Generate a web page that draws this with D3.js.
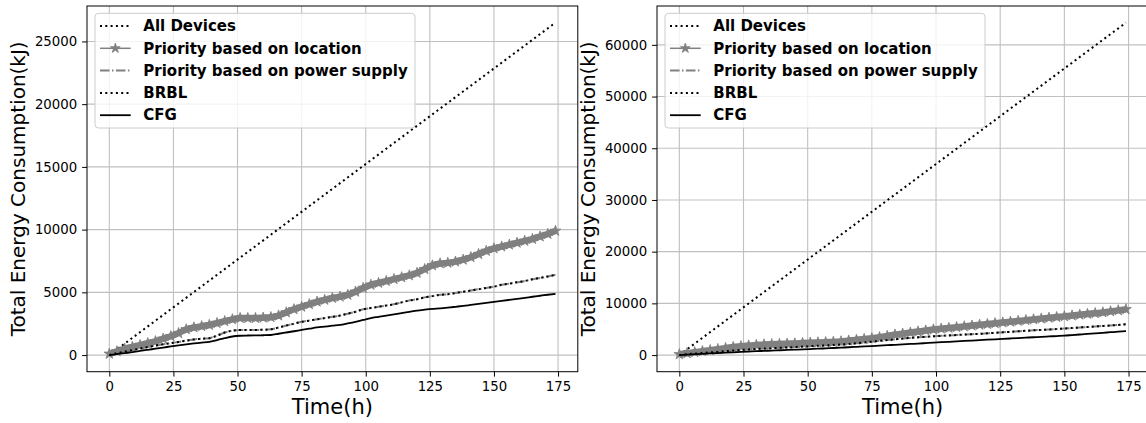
<!DOCTYPE html>
<html>
<head>
<meta charset="utf-8">
<script src="https://cdn.jsdelivr.net/npm/d3@7"></script>
<style>
  body { margin: 0; background: #fff; }
  svg { display: block; font-family: "DejaVu Sans", sans-serif; }
</style>
</head>
<body>
<div id="chart"></div>
<script>
const hours = [0,3,6,9,12,15,18,21,24,27,30,33,36,39,42,45,48,51,54,57,60,63,66,69,72,75,78,81,84,87,90,93,96,99,102,105,108,111,114,117,120,123,126,129,132,135,138,141,144,147,150,153,156,159,162,165,168,171,174];

const deviceHours = [0, 174];
const leftAllDevices = [0, 26500];
const rightAllDevices = [0, 64300];

const leftLocation = [100,300,500,650,800,950,1100,1300,1500,1750,2050,2200,2300,2400,2550,2700,2850,2950,2950,2950,2980,3020,3150,3400,3650,3850,4050,4250,4400,4550,4650,4800,5050,5350,5600,5750,5900,6050,6200,6350,6550,6850,7150,7300,7350,7450,7600,7800,8050,8300,8500,8650,8800,8950,9100,9250,9450,9650,9900];
const leftPower = [0,150,280,400,520,640,760,860,950,1050,1150,1250,1300,1350,1550,1800,1950,2000,2000,2000,2020,2050,2200,2350,2500,2650,2750,2850,2950,3050,3150,3300,3450,3650,3750,3850,3950,4050,4200,4350,4450,4600,4700,4800,4850,4950,5050,5150,5250,5350,5450,5600,5700,5800,5900,6050,6150,6270,6400];
const leftBrbl = leftPower;
const leftCfg = [0,80,160,240,330,420,510,600,690,780,860,930,990,1060,1200,1350,1480,1540,1560,1570,1580,1600,1700,1800,1900,2000,2100,2200,2270,2340,2400,2520,2650,2800,2950,3050,3150,3250,3350,3450,3550,3620,3680,3720,3780,3850,3920,4000,4080,4160,4240,4320,4400,4480,4560,4650,4730,4810,4880];

const rightLocation = [150,350,550,750,950,1150,1350,1550,1700,1850,1950,2050,2100,2150,2200,2250,2330,2400,2450,2500,2550,2650,2800,2950,3100,3250,3450,3700,3950,4150,4350,4550,4750,4950,5100,5250,5400,5550,5700,5850,6000,6150,6300,6450,6600,6750,6900,7050,7200,7350,7500,7650,7800,7950,8100,8250,8450,8650,8850];
const rightPower = [0,150,280,400,520,640,760,880,1000,1100,1180,1250,1320,1400,1480,1560,1640,1720,1800,1880,1960,2050,2150,2300,2450,2600,2750,2900,3050,3200,3320,3430,3530,3630,3720,3800,3880,3960,4040,4120,4200,4300,4400,4500,4600,4700,4790,4870,4950,5040,5130,5230,5330,5430,5530,5630,5730,5830,5950];
const rightBrbl = rightPower;
const rightCfg = [0,90,170,250,320,390,460,530,610,680,750,810,870,930,990,1050,1110,1170,1230,1300,1370,1440,1510,1590,1670,1750,1830,1910,1990,2070,2150,2230,2320,2410,2490,2570,2650,2730,2810,2890,2970,3050,3130,3210,3290,3370,3450,3520,3600,3680,3760,3870,3980,4090,4200,4310,4420,4530,4630];

const xTicks = [0, 25, 50, 75, 100, 125, 150, 175];
const leftYTicks = [0, 5000, 10000, 15000, 20000, 25000];
const rightYTicks = [0, 10000, 20000, 30000, 40000, 50000, 60000];

const legendNames = ["All Devices", "Priority based on location", "Priority based on power supply", "BRBL", "CFG"];

const width = 1146;
const height = 423;
const plotTop = 6, plotBottom = 371.7;
const gray = "#808080";

const svg = d3.select("#chart").append("svg")
  .attr("width", width)
  .attr("height", height);

const panels = [
  { left: 87, right: 577.8, yMax: 26500, ticks: leftYTicks, all: leftAllDevices,
    loc: leftLocation, pow: leftPower, brbl: leftBrbl, cfg: leftCfg, labelX: 24.5 },
  { left: 657, right: 1148.3, yMax: 64300, ticks: rightYTicks, all: rightAllDevices,
    loc: rightLocation, pow: rightPower, brbl: rightBrbl, cfg: rightCfg, labelX: 594.5 }
];

const styles = {
  all:  { stroke: "#000", width: 2, dash: "2,3.3" },
  loc:  { stroke: gray, width: 1.5, dash: null },
  pow:  { stroke: gray, width: 2, dash: "9.6,2.4,1.5,2.4" },
  brbl: { stroke: "#000", width: 2, dash: "2,3.3" },
  cfg:  { stroke: "#000", width: 1.8, dash: null }
};

panels.forEach((p, i) => {
  const x = d3.scaleLinear().domain([-8.7, 182.7]).range([p.left, p.right]);
  const y = d3.scaleLinear().domain([-p.yMax * 0.05, p.yMax * 1.05]).range([plotBottom, plotTop]);

  const g = svg.append("g");

  // clip for the data area
  svg.append("clipPath").attr("id", "clip" + i)
    .append("rect")
    .attr("x", p.left).attr("y", plotTop)
    .attr("width", p.right - p.left).attr("height", plotBottom - plotTop);

  // grid
  g.append("g").selectAll("line").data(xTicks).join("line")
    .attr("x1", d => x(d)).attr("x2", d => x(d))
    .attr("y1", plotTop).attr("y2", plotBottom)
    .attr("stroke", "#c0c0c0").attr("stroke-width", 1.1);
  g.append("g").selectAll("line").data(p.ticks).join("line")
    .attr("x1", p.left).attr("x2", p.right)
    .attr("y1", d => y(d)).attr("y2", d => y(d))
    .attr("stroke", "#c0c0c0").attr("stroke-width", 1.1);

  const plot = g.append("g").attr("clip-path", `url(#clip${i})`);
  const line = d3.line().x(d => x(d[0])).y(d => y(d[1])).curve(d3.curveMonotoneX);

  function drawSeries(times, values, st, w) {
    plot.append("path")
      .datum(times.map((t, k) => [t, values[k]]))
      .attr("d", line)
      .attr("fill", "none")
      .attr("stroke", st.stroke)
      .attr("stroke-width", w || st.width)
      .attr("stroke-dasharray", st.dash);
  }

  drawSeries(deviceHours, p.all, styles.all);
  // the dense star markers form a thick textured band
  drawSeries(hours, p.loc, styles.loc, 6.5);
  plot.append("g").selectAll("path").data(hours).join("path")
    .attr("transform", (d, k) => `translate(${x(d)},${y(p.loc[k])})`)
    .attr("d", d3.symbol(d3.symbolStar, 36))
    .attr("fill", gray)
    .attr("stroke", gray)
    .attr("stroke-width", 0.8);
  drawSeries(hours, p.pow, styles.pow);
  drawSeries(hours, p.brbl, styles.brbl);
  drawSeries(hours, p.cfg, styles.cfg);

  // axes
  const xAxis = g.append("g")
    .attr("transform", `translate(0,${plotBottom})`)
    .call(d3.axisBottom(x).tickValues(xTicks).tickSize(4.9).tickPadding(4.9));
  const yAxis = g.append("g")
    .attr("transform", `translate(${p.left},0)`)
    .call(d3.axisLeft(y).tickValues(p.ticks).tickFormat(d3.format("d")).tickSize(4.9).tickPadding(4.9));
  [xAxis, yAxis].forEach(a => {
    a.select(".domain").remove();
    a.selectAll("text").attr("font-size", 13.3).attr("font-family", "DejaVu Sans").attr("fill", "#000");
    a.selectAll("line").attr("stroke", "#000").attr("stroke-width", 1);
  });

  // spines
  g.append("rect")
    .attr("x", p.left).attr("y", plotTop)
    .attr("width", p.right - p.left).attr("height", plotBottom - plotTop)
    .attr("fill", "none").attr("stroke", "#000").attr("stroke-width", 1);

  // labels
  g.append("text")
    .attr("x", (p.left + p.right) / 2).attr("y", 414)
    .attr("text-anchor", "middle").attr("font-size", 21)
    .text("Time(h)");
  g.append("text")
    .attr("transform", `translate(${p.labelX},${(plotTop + plotBottom) / 2}) rotate(-90)`)
    .attr("text-anchor", "middle").attr("font-size", 20)
    .text("Total Energy Consumption(kJ)");

  // legend
  const lg = g.append("g").attr("transform", `translate(${p.left + 8},13.3)`);
  lg.append("rect")
    .attr("width", 320).attr("height", 114.7)
    .attr("rx", 3.5)
    .attr("fill", "#fff").attr("fill-opacity", 0.8)
    .attr("stroke", "#cccccc").attr("stroke-width", 1);
  const keys = ["all", "loc", "pow", "brbl", "cfg"];
  legendNames.forEach((name, k) => {
    const cy = 12.7 + k * 22.3;
    const st = styles[keys[k]];
    lg.append("line")
      .attr("x1", 5).attr("x2", 35.7)
      .attr("y1", cy).attr("y2", cy)
      .attr("stroke", st.stroke).attr("stroke-width", st.width)
      .attr("stroke-dasharray", st.dash);
    if (keys[k] === "loc") {
      lg.append("path")
        .attr("transform", `translate(20.3,${cy})`)
        .attr("d", d3.symbol(d3.symbolStar, 30))
        .attr("fill", gray).attr("stroke", gray).attr("stroke-width", 0.8);
    }
    lg.append("text")
      .attr("x", 48.3).attr("y", cy)
      .attr("dy", "0.35em")
      .attr("font-size", 15).attr("font-weight", "bold")
      .text(name);
  });
});
</script>
</body>
</html>
